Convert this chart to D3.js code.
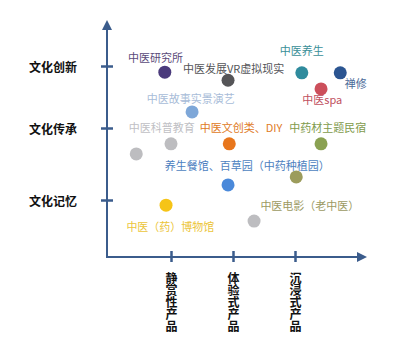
<!DOCTYPE html>
<html lang="zh">
  <head>
    <meta charset="UTF-8" />
    <title>中医产品定位</title>
    <script src="https://d3js.org/d3.v7.min.js"></script>
    <style>
      body { margin: 0; background: #fff; }
      text { font-family: "Noto Sans CJK SC", "Noto Sans", sans-serif; }
    </style>
  </head>
  <body>
    <div id="chart"></div>
    <script>
      // 横轴：产品形式，纵轴：文化层次
      const xCategories = ["静赏性产品", "体验式产品", "沉浸式产品"];
      const yCategories = ["文化记忆", "文化传承", "文化创新"];

      // 散点 [x, y]（以刻度为单位）
      const pointX = [0.9, 1.92, 3.11, 3.73, 3.42, 1.34, 1.0, 0.44, 1.94, 3.42, 3.02, 1.92, 0.92, 2.34];
      const pointY = [2.9, 2.77, 2.89, 2.89, 2.63, 2.26, 1.78, 1.64, 1.78, 1.78, 1.32, 1.21, 0.91, 0.63];
      const pointColors = ["#4b3b7c", "#555558", "#2f8b9d", "#2b5591", "#cc4f5b", "#7ea7d8", "#bdbdc0",
        "#bdbdc0", "#e8761c", "#8aa152", "#9c9c5c", "#4a89da", "#f6c417", "#bdbdc0"];

      // 标注文字
      const labelTexts = ["中医研究所", "中医发展VR虚拟现实", "中医养生", "禅修", "中医spa", "中医故事实景演艺",
        "中医科普教育", "中医文创类、DIY", "中药材主题民宿", "养生餐馆、百草园（中药种植园）",
        "中医电影（老中医）", "中医（药）博物馆"];
      const labelX = [0.75, 2.01, 3.11, 3.98, 3.44, 1.32, 0.85, 2.13, 3.53, 2.23, 3.24, 0.99];
      const labelY = [3.06, 2.89, 3.18, 2.65, 2.39, 2.40, 1.95, 1.95, 1.95, 1.42, 0.83, 0.46];
      const labelColors = ["#5a4a7a", "#555558", "#3a8f98", "#4a6a98", "#c05060", "#a8bcd8",
        "#c0c0c4", "#e07a24", "#7f9b4c", "#4d7fc0", "#9c9a62", "#ecc53a"];

      const width = 400, height = 339;
      const axisColor = "#3b5c8c";

      const svg = d3.select("#chart").append("svg")
        .attr("width", width)
        .attr("height", height);

      const x = d3.scaleLinear().domain([0, 3]).range([109, 295]);
      const y = d3.scaleLinear().domain([0, 1, 2, 3]).range([257, 200, 128, 66]);

      // 箭头
      svg.append("defs").append("marker")
        .attr("id", "arrow")
        .attr("viewBox", "0 0 10 10")
        .attr("refX", 8).attr("refY", 5)
        .attr("markerWidth", 5).attr("markerHeight", 5)
        .attr("orient", "auto")
        .append("path")
        .attr("d", "M0,0 L10,5 L0,10 z")
        .attr("fill", axisColor);

      svg.append("line")
        .attr("x1", 107).attr("y1", 257).attr("x2", 107).attr("y2", 22)
        .attr("stroke", axisColor).attr("stroke-width", 2)
        .attr("marker-end", "url(#arrow)");
      svg.append("line")
        .attr("x1", 106).attr("y1", 257).attr("x2", 365).attr("y2", 257)
        .attr("stroke", axisColor).attr("stroke-width", 2)
        .attr("marker-end", "url(#arrow)");

      const yAxis = svg.append("g")
        .attr("transform", "translate(107,0)")
        .call(d3.axisLeft(y).tickValues([1, 2, 3]).tickFormat((d) => yCategories[d - 1]).tickSize(6).tickPadding(24));
      yAxis.select(".domain").remove();
      yAxis.selectAll(".tick line").attr("x1", -6).attr("x2", 6)
        .attr("stroke", axisColor).attr("stroke-width", 2.5);
      yAxis.selectAll(".tick text")
        .attr("font-size", 12).attr("font-weight", "bold").attr("fill", "#111")
        .attr("dy", "0.45em");

      const xAxis = svg.append("g")
        .attr("transform", "translate(0,257)")
        .call(d3.axisBottom(x).tickValues([1, 2, 3]).tickFormat((d) => xCategories[d - 1]).tickSize(6));
      xAxis.select(".domain").remove();
      xAxis.selectAll(".tick line").attr("y1", -6).attr("y2", 5)
        .attr("stroke", axisColor).attr("stroke-width", 2.5);

      // 竖排横轴标签
      xAxis.selectAll(".tick text")
        .attr("x", 0).attr("y", 15).attr("dy", null)
        .attr("writing-mode", "vertical-rl")
        .attr("text-anchor", "start")
        .attr("font-size", 12).attr("font-weight", "bold").attr("fill", "#111");

      svg.selectAll(".dot")
        .data(pointX.map((v, i) => ({ x: v, y: pointY[i], c: pointColors[i] })))
        .enter().append("circle")
        .attr("class", "dot")
        .attr("cx", (d) => x(d.x))
        .attr("cy", (d) => y(d.y))
        .attr("r", 6.5)
        .attr("fill", (d) => d.c);

      svg.selectAll(".label")
        .data(labelTexts)
        .enter().append("text")
        .attr("class", "label")
        .attr("x", (d, i) => x(labelX[i]))
        .attr("y", (d, i) => y(labelY[i]))
        .attr("text-anchor", "middle")
        .attr("font-size", 11)
        .attr("fill", (d, i) => labelColors[i])
        .text((d) => d);
    </script>
  </body>
</html>
